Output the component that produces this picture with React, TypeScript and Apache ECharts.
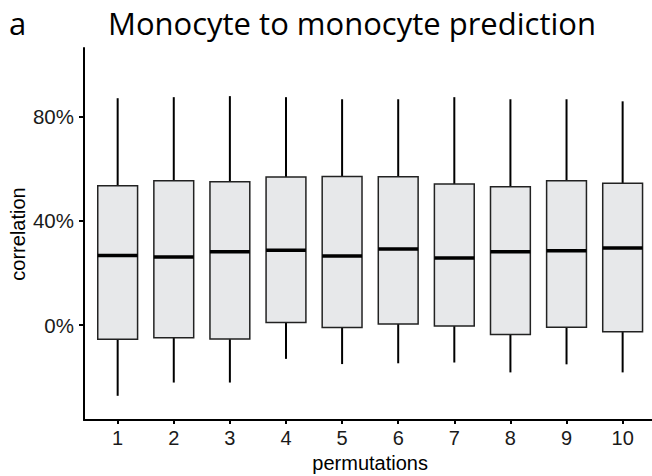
import React, { useEffect, useRef } from "react";
import * as echarts from "echarts";

const categories = [1, 2, 3, 4, 5, 6, 7, 8, 9, 10];
const whiskerLow = [-27.2, -22.1, -22.1, -13.0, -15.0, -14.7, -14.4, -18.2, -15.1, -18.2];
const q1 = [-5.5, -4.9, -5.4, 1.0, -0.9, 0.4, -0.4, -3.6, -0.8, -2.6];
const median = [26.7, 26.2, 28.2, 28.8, 26.5, 29.2, 25.8, 28.2, 28.6, 29.6];
const q3 = [53.5, 55.5, 55.1, 56.9, 57.1, 57.0, 54.2, 53.2, 55.5, 54.5];
const whiskerHigh = [87.2, 87.6, 88.0, 87.6, 86.8, 86.8, 87.6, 86.8, 86.8, 86.0];
const yTicks = [0, 40, 80];

const titleText = "Monocyte to monocyte prediction";
const panelLabel = "a";

export default function App() {
  const ref = useRef<HTMLDivElement>(null);
  useEffect(() => {
    if (!ref.current) return;
    const chart = echarts.init(ref.current, null, { renderer: "svg" });
    const data = categories.map((c, i) => [c, whiskerLow[i], q1[i], median[i], q3[i], whiskerHigh[i]]);
    const axisFont = "Liberation Sans, Arial, Helvetica, sans-serif";
    chart.setOption({
      animation: false,
      backgroundColor: "#ffffff",
      graphic: [
        {
          type: "text",
          x: 9,
          y: 23,
          style: { text: panelLabel, font: "31px 'Open Sans'", fill: "#000", textVerticalAlign: "middle" },
        },
        {
          type: "text",
          x: 108,
          y: 23,
          style: { text: titleText, font: "31px 'Open Sans'", fill: "#000", textVerticalAlign: "middle" },
        },
      ],
      grid: { left: 84, top: 48, width: 572.3, height: 372, containLabel: false, outerBoundsMode: "none" },
      xAxis: {
        type: "value",
        min: 0.4,
        max: 10.6,
        name: "permutations",
        nameLocation: "middle",
        nameGap: 33,
        nameTextStyle: { fontFamily: axisFont, fontSize: 20, color: "#000" },
        axisLine: { show: true, onZero: false, lineStyle: { color: "#000", width: 2 } },
        axisTick: { show: true, length: 4, lineStyle: { color: "#000", width: 2 }, customValues: categories },
        axisLabel: { show: true, margin: 8, fontFamily: axisFont, fontSize: 20, color: "#1a1a1a", customValues: categories },
        splitLine: { show: false },
      },
      yAxis: {
        type: "value",
        min: -36.5,
        max: 106.5,
        name: "correlation",
        nameLocation: "middle",
        nameGap: 56,
        nameRotate: 90,
        nameMoveOverlap: false,
        nameTextStyle: { fontFamily: axisFont, fontSize: 20, color: "#000" },
        axisLine: { show: true, onZero: false, lineStyle: { color: "#000", width: 2 } },
        axisTick: { show: true, length: 5, lineStyle: { color: "#000", width: 2 }, customValues: yTicks },
        axisLabel: {
          show: true,
          margin: 10,
          fontFamily: axisFont,
          fontSize: 20.5,
          color: "#1a1a1a",
          customValues: yTicks,
          formatter: (v: number) => `${v}%`,
        },
        splitLine: { show: false },
      },
      series: [
        {
          type: "custom",
          data,
          encode: { x: 0, y: [1, 2, 3, 4, 5] },
          renderItem: (params: any, api: any) => {
            const x = api.value(0);
            const lo = api.coord([x, api.value(1)]);
            const b = api.coord([x, api.value(2)]);
            const m = api.coord([x, api.value(3)]);
            const t = api.coord([x, api.value(4)]);
            const hi = api.coord([x, api.value(5)]);
            const w = api.size([0.71, 0])[0];
            const half = w / 2;
            return {
              type: "group",
              children: [
                { type: "line", shape: { x1: hi[0], y1: hi[1], x2: t[0], y2: t[1] }, style: { stroke: "#000", lineWidth: 2 } },
                { type: "line", shape: { x1: b[0], y1: b[1], x2: lo[0], y2: lo[1] }, style: { stroke: "#000", lineWidth: 2 } },
                {
                  type: "rect",
                  shape: { x: t[0] - half, y: t[1], width: w, height: b[1] - t[1] },
                  style: { fill: "#E7E8EA", stroke: "#222", lineWidth: 1.5 },
                },
                {
                  type: "line",
                  shape: { x1: m[0] - half, y1: m[1], x2: m[0] + half, y2: m[1] },
                  style: { stroke: "#000", lineWidth: 3.5 },
                },
              ],
            };
          },
        },
      ],
    });
    return () => chart.dispose();
  }, []);
  return <div ref={ref} style={{ position: "absolute", left: 0, top: 0, width: 652, height: 476 }} />;
}
